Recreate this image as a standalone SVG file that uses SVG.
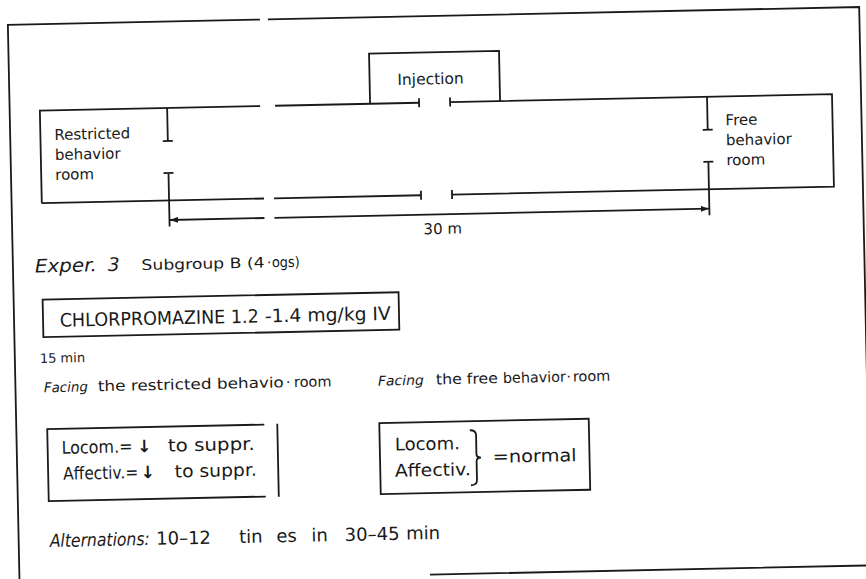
<svg xmlns="http://www.w3.org/2000/svg" width="866" height="579" viewBox="0 0 866 579">
<style>
.ln{fill:none;stroke:#1a1a1a;stroke-width:1.8}
.t{font-family:"DejaVu Sans","Liberation Sans",sans-serif;fill:#1a1a1a}
.it{font-style:italic}
.ar{font-weight:bold}
</style>
<defs>
<marker id="ah" viewBox="0 0 8 6" refX="8" refY="3" markerWidth="8" markerHeight="6" markerUnits="userSpaceOnUse" orient="auto-start-reverse">
<path d="M0,0 L8,3 L0,6 z" fill="#1a1a1a"/>
</marker>
</defs>
<rect width="866" height="579" fill="#ffffff"/>
<g transform="rotate(-1.2 433 290)">
  <g id="frame">
    <path class="ln" d="M13.5,576 V16 H265.6 M273.6,16 H865 V574.5 H424"/>
  </g>
  <g id="corridor">
    <path class="ln" d="M43.7,195 V102.5 H264 M279,102.5 H423 M454,102.5 H836 V195 H454 M423,195 H276 M266,195 H43.7"/>
    <path class="ln" d="M423,98 V107 M454,98 V107 M423,190.5 V199.5 M454,190.5 V199.5"/>
  </g>
  <g id="injection-room">
    <path class="ln" d="M374,102.5 V52.4 H504 V102.5"/>
    <text class="t" x="435" y="84.3" font-size="15.5" text-anchor="middle">Injection</text>
  </g>
  <g id="restricted-room">
    <path class="ln" d="M171,102.5 V135.5 M166,135.5 H176 M166,167.5 H176 M171,167.5 V221"/>
    <text class="t" font-size="15"><tspan x="57.7" y="132">Restricted</tspan><tspan x="57.7" y="152">behavior</tspan><tspan x="57.7" y="172">room</tspan></text>
  </g>
  <g id="free-room">
    <path class="ln" d="M711,102.5 V135.5 M706,135.5 H716 M706,167.5 H716 M711,167.5 V221"/>
    <text class="t" font-size="15"><tspan x="729" y="131.5">Free</tspan><tspan x="729" y="151.5">behavior</tspan><tspan x="729" y="171.5">room</tspan></text>
  </g>
  <g id="connectors">
    <path class="ln" d="M171.5,214.5 H266" marker-start="url(#ah)"/>
    <path class="ln" d="M276,214.5 H710.5" marker-end="url(#ah)"/>
    <text class="t" x="444" y="234.2" font-size="15" text-anchor="middle">30 m</text>
  </g>
  <g id="title">
    <text class="t it" x="35.4" y="264.2" font-size="18.5" textLength="62" lengthAdjust="spacingAndGlyphs">Exper.</text>
    <text class="t it" x="108.4" y="264.2" font-size="18.5">3</text>
    <text class="t" x="142.1" y="264" font-size="14.5" textLength="123" lengthAdjust="spacingAndGlyphs">Subgroup B (4</text>
    <text class="t" x="267.4" y="264" font-size="14.5">·</text>
    <text class="t" x="272.4" y="264" font-size="14.5" textLength="28" lengthAdjust="spacingAndGlyphs">ogs)</text>
  </g>
  <g id="drug-box">
    <rect class="ln" x="42.5" y="291.5" width="356" height="37.5"/>
    <text class="t" x="59.2" y="318.9" font-size="18.5" textLength="199" lengthAdjust="spacingAndGlyphs">CHLORPROMAZINE 1.2</text>
    <text class="t" x="264.3" y="318.9" font-size="18.5" textLength="126" lengthAdjust="spacingAndGlyphs">-1.4 mg/kg IV</text>
  </g>
  <g id="time">
    <text class="t" x="38.5" y="354.8" font-size="13">15 min</text>
  </g>
  <g id="facing-restricted">
    <text class="t it" x="41.9" y="384.2" font-size="13.5" textLength="44" lengthAdjust="spacingAndGlyphs">Facing</text>
    <text class="t" x="95.9" y="384.2" font-size="14.5" textLength="186" lengthAdjust="spacingAndGlyphs">the restricted behavio</text>
    <text class="t" x="284" y="384.2" font-size="14.5">·</text>
    <text class="t" x="292" y="384.2" font-size="14.5">room</text>
  </g>
  <g id="facing-free">
    <text class="t it" x="376" y="384.5" font-size="13.5" textLength="46" lengthAdjust="spacingAndGlyphs">Facing</text>
    <text class="t" x="434" y="384.5" font-size="14.5" textLength="62" lengthAdjust="spacingAndGlyphs">the free</text>
    <text class="t" x="501" y="384.5" font-size="14.5" textLength="63" lengthAdjust="spacingAndGlyphs">behavior</text>
    <text class="t" x="564.5" y="384.5" font-size="14.5">·</text>
    <text class="t" x="571" y="384.5" font-size="14.5">room</text>
  </g>
  <g id="restricted-result">
    <path class="ln" d="M261.5,421 H44.4 V493 H261.5 M274.5,420.5 V493.5"/>
    <text class="t" x="58.3" y="446" font-size="17.5" textLength="71" lengthAdjust="spacingAndGlyphs">Locom.=</text>
    <text class="t ar" x="141" y="446" font-size="17" text-anchor="middle">↓</text>
    <text class="t" x="164.6" y="446" font-size="17.5" textLength="87" lengthAdjust="spacingAndGlyphs">to suppr.</text>
    <text class="t" x="59.4" y="472" font-size="17.5" textLength="75" lengthAdjust="spacingAndGlyphs">Affectiv.=</text>
    <text class="t ar" x="144" y="472" font-size="17" text-anchor="middle">↓</text>
    <text class="t" x="171" y="472" font-size="17.5" textLength="82" lengthAdjust="spacingAndGlyphs">to suppr.</text>
  </g>
  <g id="free-result">
    <rect class="ln" x="376.5" y="422" width="209.5" height="71"/>
    <text class="t" x="391.6" y="449.7" font-size="17.5" textLength="65" lengthAdjust="spacingAndGlyphs">Locom.</text>
    <text class="t" x="391.1" y="476" font-size="17.5" textLength="76" lengthAdjust="spacingAndGlyphs">Affectiv.</text>
    <path class="ln" d="M466.9,431 Q473,431 473,436 V455 Q473,458.5 477.5,458.5 Q473,458.5 473,462 V481 Q473,486 466.9,486"/>
    <text class="t" x="489.1" y="464" font-size="17.5" textLength="84" lengthAdjust="spacingAndGlyphs">=normal</text>
  </g>
  <g id="alternations">
    <text class="t it" x="44.6" y="539" font-size="18" textLength="100" lengthAdjust="spacingAndGlyphs">Alternations:</text>
    <text class="t" x="151" y="539" font-size="18">10–12</text>
    <text class="t" x="234" y="539" font-size="18">tin</text>
    <text class="t" x="271.3" y="539" font-size="18">es</text>
    <text class="t" x="306.3" y="539" font-size="18">in</text>
    <text class="t" x="339.6" y="539" font-size="18">30–45</text>
    <text class="t" x="401" y="539" font-size="18">min</text>
  </g>
</g>
</svg>
